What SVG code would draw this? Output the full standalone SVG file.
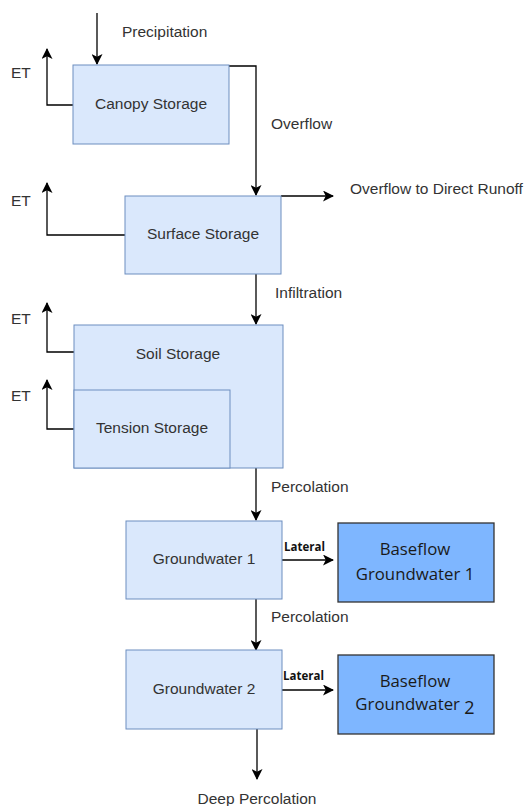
<svg xmlns="http://www.w3.org/2000/svg" width="526" height="806" viewBox="0 0 526 806">
<defs>
<marker id="ah" markerWidth="11" markerHeight="11" refX="10" refY="5.5" orient="auto" markerUnits="userSpaceOnUse">
<path d="M0,0 L11,5.5 L0,11 L2.75,5.5 Z" fill="#000"/>
</marker>
<style>
.box{fill:#dae8fc;stroke:#6c8ebf;stroke-width:1}
.bf{fill:#7eb6ff;stroke:#333;stroke-width:1.3}
.t{font-family:"Liberation Sans",Arial,sans-serif;font-size:15.5px;fill:#333}
.tc{text-anchor:middle}
.b{font-family:"Open Sans","Noto Sans",sans-serif;font-size:16.8px;fill:#1a1a1a;text-anchor:middle}
.lat{font-family:"Open Sans","Noto Sans",sans-serif;font-size:11.5px;font-weight:bold;fill:#111}
.c{fill:none;stroke:#000;stroke-width:1.3}
</style>
</defs>
<rect width="526" height="806" fill="#fff"/>
<g id="connectors">
<path class="c" d="M97,13 V64" marker-end="url(#ah)"/>
<path class="c" d="M73,105 H47 V49" marker-end="url(#ah)"/>
<path class="c" d="M229,66 H256 V195" marker-end="url(#ah)"/>
<path class="c" d="M125,235 H47 V183" marker-end="url(#ah)"/>
<path class="c" d="M281,196 H333" marker-end="url(#ah)"/>
<path class="c" d="M256,274 V324" marker-end="url(#ah)"/>
<path class="c" d="M74,352 H47 V303" marker-end="url(#ah)"/>
<path class="c" d="M74,429 H47 V380" marker-end="url(#ah)"/>
<path class="c" d="M256,468 V520" marker-end="url(#ah)"/>
<path class="c" d="M282,560 H333" marker-end="url(#ah)"/>
<path class="c" d="M256,599 V650" marker-end="url(#ah)"/>
<path class="c" d="M282,690 H333" marker-end="url(#ah)"/>
<path class="c" d="M257,729 V779" marker-end="url(#ah)"/>
<text class="t" x="122" y="37">Precipitation</text>
<text class="t" x="11" y="78">ET</text>
<text class="t" x="271" y="129">Overflow</text>
<text class="t" x="11" y="206">ET</text>
<text class="t" x="350" y="194">Overflow to Direct Runoff</text>
<text class="t" x="275" y="298">Infiltration</text>
<text class="t" x="11" y="324">ET</text>
<text class="t" x="11" y="401">ET</text>
<text class="t" x="271" y="492">Percolation</text>
<text class="lat" x="284" y="551">Lateral</text>
<text class="t" x="271" y="622">Percolation</text>
<text class="lat" x="283" y="680">Lateral</text>
<text class="t tc" x="257" y="804">Deep Percolation</text>
</g>
<g id="canopy">
<rect class="box" x="73" y="65" width="156" height="79"/>
<text class="t tc" x="151" y="109">Canopy Storage</text>
</g>
<g id="surface">
<rect class="box" x="125" y="196" width="156" height="78"/>
<text class="t tc" x="203" y="239">Surface Storage</text>
</g>
<g id="soil">
<rect class="box" x="74" y="325" width="209" height="143"/>
<text class="t tc" x="178" y="359">Soil Storage</text>
</g>
<g id="tension">
<rect class="box" x="74" y="390" width="156" height="78"/>
<text class="t tc" x="152" y="433">Tension Storage</text>
</g>
<g id="gw1">
<rect class="box" x="126" y="521" width="156" height="78"/>
<text class="t tc" x="204" y="564">Groundwater 1</text>
</g>
<g id="bf1">
<rect class="bf" x="338" y="523" width="156" height="79"/>
<text class="b" x="415" y="555">Baseflow</text>
<text class="b" x="415" y="580">Groundwater 1</text>
</g>
<g id="gw2">
<rect class="box" x="126" y="650" width="156" height="79"/>
<text class="t tc" x="204" y="694">Groundwater 2</text>
</g>
<g id="bf2">
<rect class="bf" x="338" y="655" width="156" height="79"/>
<text class="b" x="415" y="687">Baseflow</text>
<text class="b" x="415" y="710">Groundwater <tspan dy="4" font-size="18px">2</tspan></text>
</g>
</svg>
